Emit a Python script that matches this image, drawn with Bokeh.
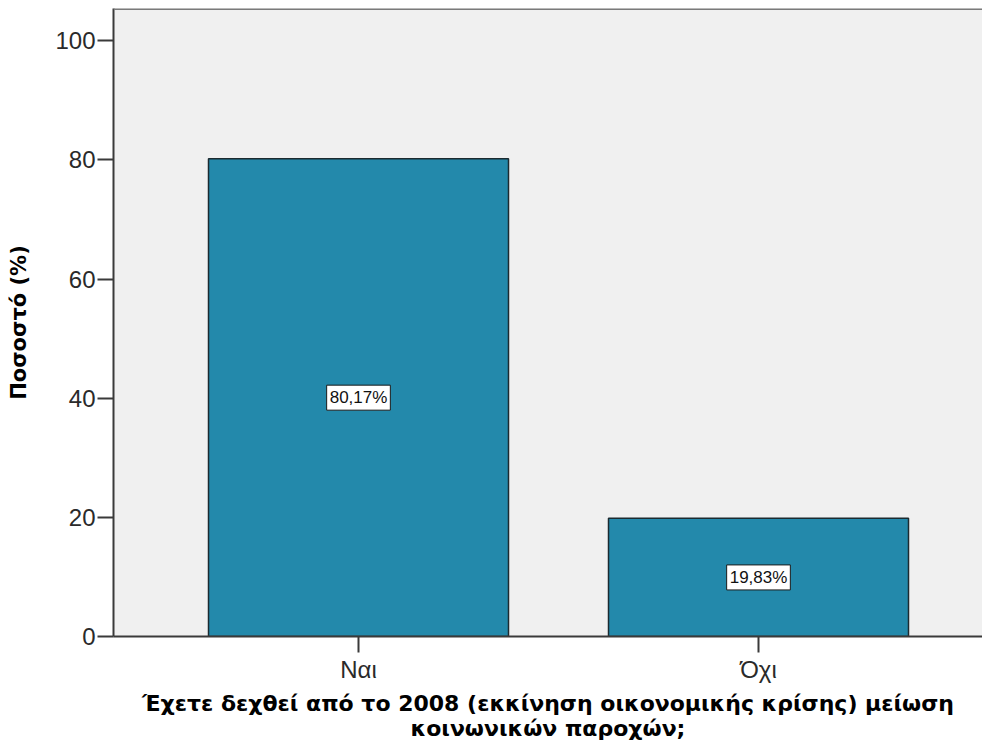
from bokeh.plotting import figure
from bokeh.models import Range1d, FixedTicker, Label, ColumnDataSource, Span
from bokeh.embed import file_html
from bokeh.resources import INLINE

categories = ["Ναι", "Όχι"]
percent = [80.17, 19.83]
label_texts = ["80,17%", "19,83%"]
y_ticks = [0, 20, 40, 60, 80, 100]

xpos = [i + 1 for i in range(len(categories))]
src = ColumnDataSource(dict(x=xpos, top=percent))

p = figure(width=982, height=743, output_backend="svg", toolbar_location=None,
           x_range=Range1d(0.3875, 2.56), y_range=Range1d(0, 105.4),
           min_border_left=113, min_border_right=0, min_border_top=8,
           min_border_bottom=107)

p.vbar(x="x", top="top", width=0.75, bottom=0, source=src,
       fill_color="#2389AB", line_color="#1b2a30", line_width=1.5)

for xv, v, t in zip(xpos, percent, label_texts):
    p.add_layout(Label(x=xv, y=v / 2, text=t,
                       text_align="center", text_baseline="middle",
                       text_font="Liberation Sans", text_font_size="17px",
                       text_color="#111111", padding=3,
                       background_fill_color="white",
                       border_line_color="#1a1a1a", border_line_width=1))

p.background_fill_color = "#F0F0F0"
p.border_fill_color = "white"
p.outline_line_color = None
p.grid.visible = False
p.add_layout(Span(location=105.4, dimension="width", line_color="#7a7a7a",
                  line_width=3))

p.xaxis.ticker = FixedTicker(ticks=xpos)
p.xaxis.major_label_overrides = {x: c for x, c in zip(xpos, categories)}
p.yaxis.ticker = FixedTicker(ticks=y_ticks)

for ax in (p.xaxis, p.yaxis):
    ax.axis_line_color = "#3a3a3a"
    ax.axis_line_width = 2
    ax.major_tick_line_color = "#3a3a3a"
    ax.major_tick_line_width = 2
    ax.major_tick_out = 16
    ax.major_tick_in = 0
    ax.minor_tick_line_color = None
    ax.major_label_text_font = "Liberation Sans"
    ax.major_label_text_font_size = "24px"
    ax.major_label_text_color = "#2a2a2a"
    ax.axis_label_text_font = "DejaVu Sans"
    ax.axis_label_text_font_style = "bold"
    ax.axis_label_text_color = "#000000"

p.yaxis.major_label_standoff = 2
p.yaxis.axis_label = "Ποσοστό (%)"
p.yaxis.axis_label_text_font_size = "21px"
p.yaxis.axis_label_standoff = 21

p.xaxis.major_label_standoff = 3
p.xaxis.axis_label = ("Έχετε δεχθεί από το 2008 (εκκίνηση οικονομικής κρίσης) μείωση\n"
                      "κοινωνικών παροχών;")
p.xaxis.axis_label_text_font_size = "22px"
p.xaxis.axis_label_text_line_height = 1.0
p.xaxis.axis_label_standoff = 5

open("out.html", "w").write(file_html(p, INLINE))
